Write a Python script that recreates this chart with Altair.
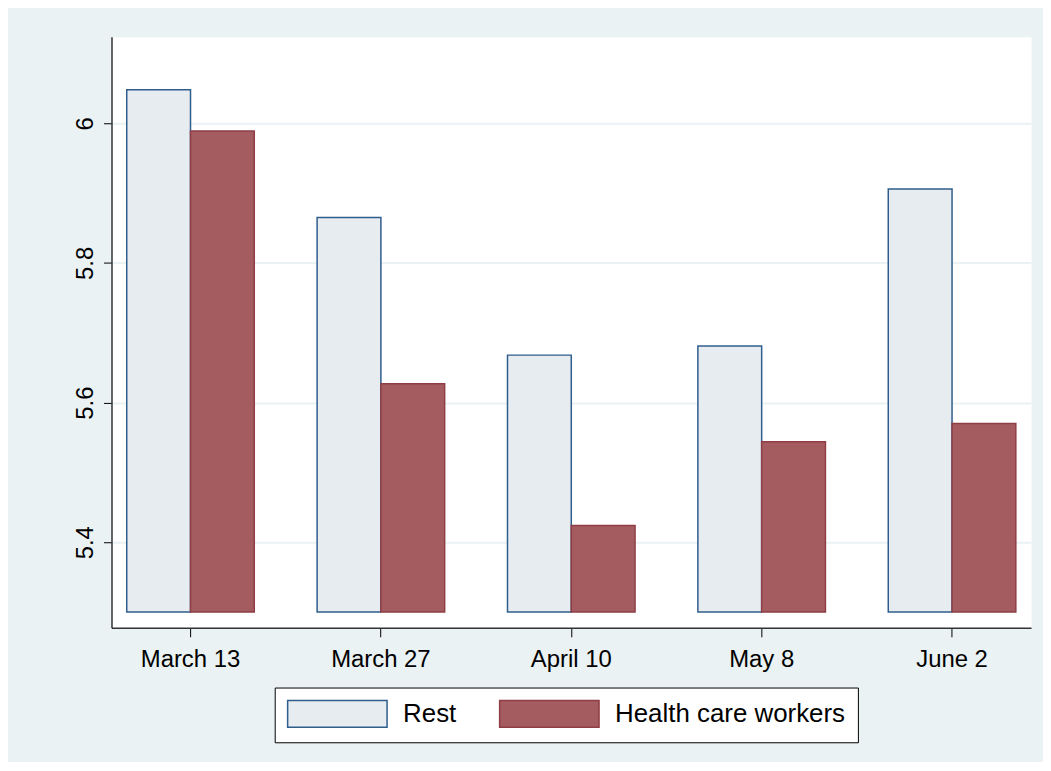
import altair as alt
import pandas as pd

# ---- data ----
dates = ["March 13", "March 27", "April 10", "May 8", "June 2"]
groups = ["Rest", "Health care workers"]
rest = [6.048, 5.865, 5.668, 5.681, 5.906]
hcw = [5.989, 5.627, 5.424, 5.544, 5.570]
base_value = 5.3
y_ticks = [5.4, 5.6, 5.8, 6.0]
y_domain = [5.2775, 6.124]

fills = ["#E7ECF1", "#A45C60"]
strokes = ["#2F5D8C", "#8F3E46"]

rows = []
for d, r, h in zip(dates, rest, hcw):
    rows.append({"date": d, "group": groups[0], "value": r, "base": base_value})
    rows.append({"date": d, "group": groups[1], "value": h, "base": base_value})
df = pd.DataFrame(rows)

FONT = "Liberation Sans"
BG = "#EAF2F3"

legend_spec = alt.Legend(orient="none", legendX=164, legendY=654,
                         direction="horizontal", columns=2)

chart = alt.Chart(df).mark_bar(strokeWidth=1.5, opacity=1).encode(
    x=alt.X("date:N", sort=dates,
            scale=alt.Scale(paddingInner=0.33, paddingOuter=0.08),
            axis=alt.Axis(title=None, labelAngle=0, tickSize=9, labelPadding=11,
                          domainColor="#333333", domainWidth=1.5,
                          tickColor="#000000", tickWidth=1,
                          labelFont=FONT, labelFontSize=24, labelColor="#000000",
                          grid=False)),
    xOffset=alt.XOffset("group:N", sort=groups,
                        scale=alt.Scale(paddingInner=0, paddingOuter=0)),
    y=alt.Y("value:Q",
            scale=alt.Scale(domain=y_domain, nice=False, zero=False),
            axis=alt.Axis(title=None, values=y_ticks, format=".1~f",
                          labelAngle=270, labelAlign="center",
                          labelBaseline="alphabetic",
                          tickSize=8, labelPadding=11,
                          grid=True, gridColor=BG, gridWidth=2,
                          domainColor="#333333", domainWidth=1.5,
                          tickColor="#000000", tickWidth=1,
                          labelFont=FONT, labelFontSize=24, labelColor="#000000")),
    y2="base:Q",
    fill=alt.Fill("group:N", sort=groups, title=None,
                  scale=alt.Scale(domain=groups, range=fills),
                  legend=legend_spec),
    stroke=alt.Stroke("group:N", sort=groups, title=None,
                      scale=alt.Scale(domain=groups, range=strokes),
                      legend=legend_spec),
).properties(
    width=924,
    height=594,
    autosize=alt.AutoSizeParams(type="none"),
    padding={"left": 104, "top": 27, "right": 12, "bottom": 133},
    background=BG,
).configure_view(
    fill="white", stroke="transparent"
).configure_legend(
    symbolType="M-1,-1L6.4,-1L6.4,1L-1,1Z",
    symbolSize=729,
    symbolStrokeWidth=1.5,
    labelOffset=88,
    columnPadding=40,
    padding=12,
    fillColor="white",
    strokeColor="#000000",
    labelFont=FONT,
    labelFontSize=26,
    labelColor="#000000",
    labelLimit=500,
)

chart.save("out.html", embed_options={"renderer": "svg", "actions": False})
